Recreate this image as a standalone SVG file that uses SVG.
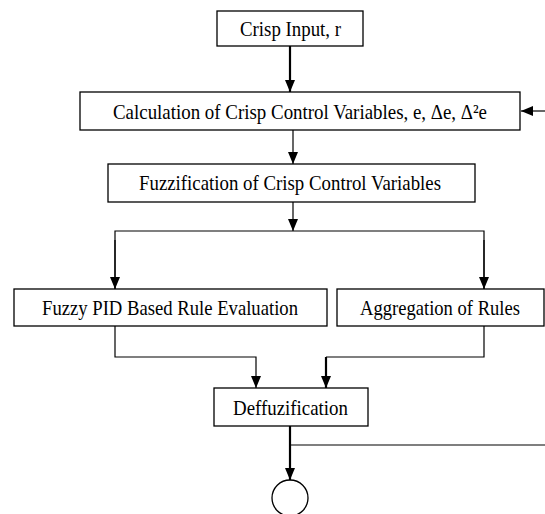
<svg xmlns="http://www.w3.org/2000/svg" width="545" height="514" viewBox="0 0 545 514">
<style>
.box{fill:#fff;stroke:#000;stroke-width:1.3}
.t{font-family:"Liberation Serif","Times New Roman",serif;font-size:21px;fill:#000}
.ln{fill:none;stroke:#000;stroke-width:1.2}
.th{fill:none;stroke:#000;stroke-width:2.2}
</style>
<defs>
<marker id="ahs" markerWidth="12" markerHeight="10" refX="12" refY="5" orient="auto" markerUnits="userSpaceOnUse" viewBox="0 0 12 10">
<path d="M0,0 L12,5 L0,10 Z" fill="#000"/>
</marker>
</defs>
<rect width="545" height="514" fill="#fff"/>
<g id="connectors">
<line class="th" x1="290" y1="46" x2="290" y2="92" marker-end="url(#ahs)"/>
<line class="ln" x1="545" y1="111" x2="521" y2="111" marker-end="url(#ahs)"/>
<line class="ln" x1="293" y1="130" x2="293" y2="164" marker-end="url(#ahs)"/>
<line class="ln" x1="293" y1="202" x2="293" y2="231" marker-end="url(#ahs)"/>
<polyline class="ln" points="115,289 115,231 484,231 484,289"/>
<line class="ln" x1="115" y1="240" x2="115" y2="289" marker-end="url(#ahs)"/>
<line class="ln" x1="484" y1="240" x2="484" y2="289" marker-end="url(#ahs)"/>
<polyline class="ln" points="115,326 115,357 256,357 256,388" marker-end="url(#ahs)"/>
<polyline class="ln" points="484,326 484,357 326,357"/>
<line class="th" x1="326" y1="357" x2="326" y2="388" marker-end="url(#ahs)"/>
<line class="th" x1="290" y1="426" x2="290" y2="480" marker-end="url(#ahs)"/>
<line class="ln" x1="290" y1="445" x2="545" y2="445"/>
</g>
<g id="crisp-input">
<rect class="box" x="217" y="11" width="146" height="35"/>
<text class="t" x="240" y="36" textLength="101" lengthAdjust="spacingAndGlyphs">Crisp Input, r</text>
</g>
<g id="calculation">
<rect class="box" x="80" y="92" width="440" height="38"/>
<text class="t" x="113" y="119" textLength="374" lengthAdjust="spacingAndGlyphs">Calculation of Crisp Control Variables, e, Δe, Δ²e</text>
</g>
<g id="fuzzification">
<rect class="box" x="108" y="164" width="367" height="38"/>
<text class="t" x="139" y="190" textLength="302" lengthAdjust="spacingAndGlyphs">Fuzzification of Crisp Control Variables</text>
</g>
<g id="rule-evaluation">
<rect class="box" x="14" y="289" width="313" height="37"/>
<text class="t" x="42" y="315" textLength="256" lengthAdjust="spacingAndGlyphs">Fuzzy PID Based Rule Evaluation</text>
</g>
<g id="aggregation">
<rect class="box" x="337" y="289" width="207" height="37"/>
<text class="t" x="360" y="315" textLength="160" lengthAdjust="spacingAndGlyphs">Aggregation of Rules</text>
</g>
<g id="deffuzification">
<rect class="box" x="214" y="388" width="154" height="38"/>
<text class="t" x="233" y="415" textLength="115" lengthAdjust="spacingAndGlyphs">Deffuzification</text>
</g>
<g id="output">
<circle cx="290" cy="498" r="18" fill="#fff" stroke="#000" stroke-width="1.3"/>
</g>
</svg>
